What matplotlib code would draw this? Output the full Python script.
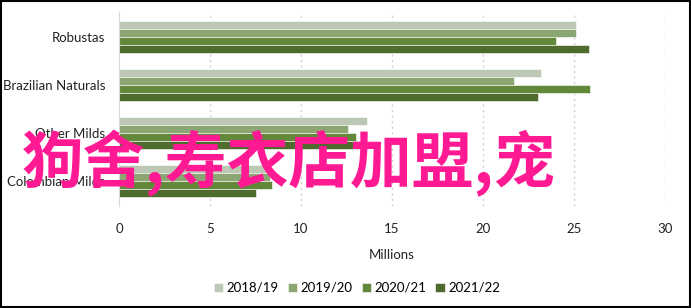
import numpy as np
import matplotlib.pyplot as plt

categories = ['Robustas', 'Brazilian Naturals', 'Other Milds', 'Colombian Milds']
seasons = ['2018/19', '2019/20', '2020/21', '2021/22']
v_2018 = [25.1, 23.2, 13.6, 8.3]
v_2019 = [25.1, 21.7, 12.6, 8.3]
v_2020 = [24.0, 25.9, 13.0, 8.4]
v_2021 = [25.8, 23.0, 13.3, 7.5]
colors = ['#bcc8b4', '#8ba673', '#62883a', '#4f6b2e']

plt.rcParams['font.family'] = ['Lato', 'DejaVu Sans']

fig = plt.figure(figsize=(6.91, 3.08), dpi=100)
ax = fig.add_axes([119/691, 1 - 206/308, (665-119)/691, (206-12)/308])

y = np.arange(len(categories))
h = 0.17
for i, vals in enumerate([v_2018, v_2019, v_2020, v_2021]):
    ax.barh(y + (i - 1.5) * h, vals, height=h, color=colors[i],
            edgecolor='white', linewidth=0.4, label=seasons[i], zorder=2)

ax.set_ylim(3.52, -0.52)
ax.set_xlim(0, 30)
ax.set_xticks([0, 5, 10, 15, 20, 25, 30])
ax.set_yticks(y)
ax.set_yticklabels(categories)
ax.tick_params(length=0, labelsize=9.5, colors='#222222')
ax.tick_params(axis='x', pad=12)
ax.tick_params(axis='y', pad=10)
for x in [5, 10, 15, 20, 25, 30]:
    ax.axvline(x, color='#d0d0d0', linestyle=(0, (1.5, 2.5)), linewidth=1, zorder=1)
for s in ['top', 'right', 'bottom']:
    ax.spines[s].set_visible(False)
ax.spines['left'].set_color('#d9d9d9')
ax.set_xlabel('Millions', fontsize=9.5, color='#222222', labelpad=10)

ax.legend(loc='center', bbox_to_anchor=(357/691, 1 - 288/308),
          bbox_transform=fig.transFigure, ncol=4, frameon=False,
          fontsize=9.5, handlelength=0.7, handleheight=0.7, handletextpad=0.25,
          columnspacing=0.7)

# watermark overlay
fig.text(22/691, 1 - 163/308, '狗舍,寿衣店加盟,宠', color='#ff1a94',
         fontsize=44.5, fontweight='bold', va='center', ha='left',
         family=['Noto Sans CJK SC', 'DejaVu Sans'])

fig.patches.append(plt.Rectangle((0.001, 0.002), 0.997, 0.995, transform=fig.transFigure,
                                 fill=False, edgecolor='black', linewidth=1.5))
fig.savefig('out.png', dpi=100)
